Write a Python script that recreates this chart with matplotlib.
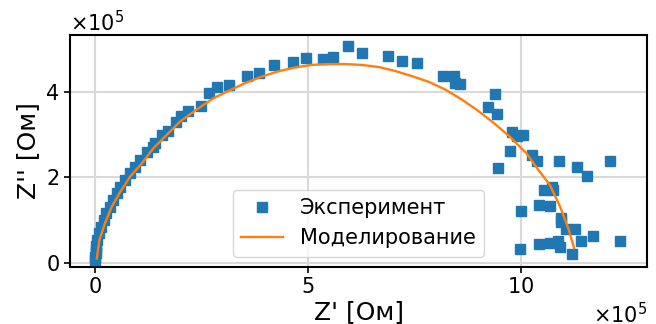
import matplotlib
matplotlib.use("Agg")
import matplotlib.pyplot as plt
import numpy as np
from matplotlib import ticker

plt.rcParams["font.family"] = "DejaVu Sans"

# values in units of 1e5 Ohm
exp_re = [0.00, 0.00, 0.01, 0.02, 0.03, 0.05, 0.09, 0.14, 0.20, 0.26, 0.34, 0.42,
          0.51, 0.59, 0.70, 0.82, 0.94, 1.06, 1.21, 1.37, 1.41, 1.57, 1.70, 1.89,
          2.02, 2.19, 2.48, 2.68, 2.87, 3.15, 3.56, 3.86, 4.21, 4.64, 4.95, 5.35,
          5.58, 5.93, 6.26, 6.87, 7.20, 7.57, 8.18, 8.42, 8.46, 8.57, 9.39, 9.23,
          9.44, 9.78, 10.05, 9.90, 9.74, 10.25, 10.38, 10.90, 11.32, 11.56, 12.10,
          9.47, 10.54, 10.72, 10.76, 10.43, 10.68, 9.99, 10.93, 10.93, 11.06, 11.27,
          11.70, 12.33, 11.41, 10.43, 10.68, 10.88, 10.92, 9.98, 11.21]
exp_im = [0.06, 0.14, 0.22, 0.30, 0.40, 0.53, 0.69, 0.84, 1.00, 1.16, 1.31, 1.47,
          1.63, 1.78, 1.94, 2.09, 2.25, 2.41, 2.60, 2.72, 2.80, 2.99, 3.09, 3.30,
          3.44, 3.54, 3.67, 3.97, 4.11, 4.16, 4.37, 4.44, 4.63, 4.69, 4.79, 4.77,
          4.82, 5.08, 4.90, 4.84, 4.72, 4.67, 4.36, 4.37, 4.20, 4.18, 3.96, 3.64,
          3.47, 3.07, 3.00, 2.96, 2.62, 2.51, 2.39, 2.37, 2.23, 2.03, 2.37,
          2.21, 1.71, 1.78, 1.70, 1.35, 1.33, 1.22, 1.04, 0.96, 0.78, 0.78,
          0.63, 0.52, 0.50, 0.44, 0.47, 0.52, 0.36, 0.31, 0.21]

model_re = [0.04, 0.10, 0.23, 0.39, 0.59, 0.82, 1.10, 1.37, 1.72, 1.99, 2.39, 2.78,
            3.17, 3.56, 3.95, 4.34, 4.70, 5.08, 5.47, 5.86, 6.26, 6.66, 7.04, 7.43,
            7.82, 8.21, 8.61, 8.96, 9.35, 9.74, 10.13, 10.41, 10.68, 10.92, 11.11,
            11.25]
model_im = [0.10, 0.53, 0.92, 1.31, 1.66, 2.01, 2.33, 2.68, 3.03, 3.30, 3.59, 3.85,
            4.04, 4.22, 4.37, 4.49, 4.57, 4.63, 4.65, 4.65, 4.63, 4.58, 4.49, 4.37,
            4.24, 4.06, 3.82, 3.58, 3.28, 2.95, 2.56, 2.17, 1.82, 1.31, 0.81, 0.34]

scale = 1e5

fig = plt.figure(figsize=(6.56, 3.24), dpi=100)
ax = fig.add_axes([70 / 656, 1 - 267 / 324, 577 / 656, 232 / 324])

ax.plot(np.array(exp_re) * scale, np.array(exp_im) * scale, "s", color="#1f77b4",
        markersize=7, label="Эксперимент", zorder=3)
ax.plot(np.array(model_re) * scale, np.array(model_im) * scale, "-", color="#ff7f0e",
        linewidth=1.7, label="Моделирование", zorder=4)

ax.set_xlim(-0.59 * scale, 12.96 * scale)
ax.set_ylim(-0.10 * scale, 5.33 * scale)
ax.xaxis.set_major_locator(ticker.FixedLocator([0, 5e5, 10e5]))
ax.yaxis.set_major_locator(ticker.FixedLocator([0, 2e5, 4e5]))
for axis in (ax.xaxis, ax.yaxis):
    fmt = ticker.ScalarFormatter(useMathText=True)
    fmt.set_powerlimits((5, 5))  # always x10^5
    axis.set_major_formatter(fmt)
    axis.get_offset_text().set_fontsize(15)

ax.tick_params(labelsize=15, width=1.2, length=4)
for sp in ax.spines.values():
    sp.set_linewidth(1.5)
ax.grid(True, color="#d9d9d9", linewidth=1.5)
ax.set_axisbelow(True)

ax.set_xlabel("Z' [Ом]", fontsize=18, labelpad=2)
ax.set_ylabel("Z'' [Ом]", fontsize=18, labelpad=4)
ax.legend(loc="lower center", fontsize=15)

fig.savefig("out.png", dpi=100)
